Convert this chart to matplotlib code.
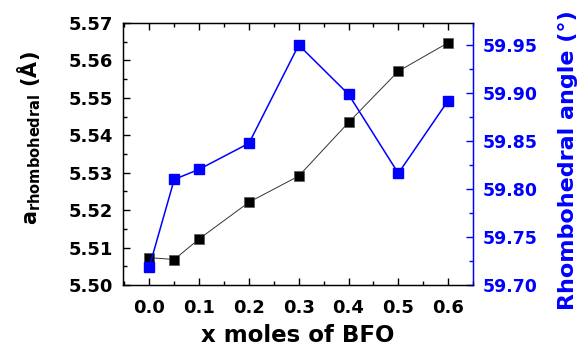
import matplotlib

matplotlib.use("Agg")
import matplotlib.pyplot as plt  # noqa: E402
from matplotlib.ticker import MultipleLocator  # noqa: E402

plt.rcParams["font.family"] = ["DejaVu Sans"]
plt.rcParams["font.weight"] = "bold"
plt.rcParams["mathtext.fontset"] = "dejavusans"

x_bfo = [0.0, 0.05, 0.1, 0.2, 0.3, 0.4, 0.5, 0.6]
a_rhomb = [5.5073, 5.5068, 5.5123, 5.5221, 5.5291, 5.5434, 5.5571, 5.5647]
angulo = [59.719, 59.810, 59.8205, 59.8476, 59.950, 59.8986, 59.8163, 59.892]

AZUL = "#0000FF"

fig, ax = plt.subplots(figsize=(5.87, 3.58), dpi=100)
fig.subplots_adjust(left=0.2095, right=0.8058, top=0.936, bottom=0.204)

ax.plot(x_bfo, a_rhomb, color="#333333", linewidth=0.7, marker="s",
        markersize=7, markerfacecolor="black", markeredgecolor="#555555",
        markeredgewidth=0.5, zorder=3)
ax.set_xlim(-0.053, 0.65)
ax.set_ylim(5.50, 5.57)
ax.xaxis.set_major_locator(MultipleLocator(0.1))
ax.xaxis.set_minor_locator(MultipleLocator(0.05))
ax.yaxis.set_major_locator(MultipleLocator(0.01))
ax.yaxis.set_minor_locator(MultipleLocator(0.005))
ax.tick_params(which="both", direction="in", top=True, labelsize=13,
               width=1.0)
ax.tick_params(which="major", length=5)
ax.tick_params(which="minor", length=3)
ax.tick_params(axis="x", pad=10)
ax.tick_params(axis="y", pad=7)
ax.set_xticklabels([f"{v:.1f}" for v in ax.get_xticks()])
ax.set_yticklabels([f"{v:.2f}" for v in ax.get_yticks()])
ax.set_xlabel("x moles of BFO", fontsize=16.5, fontweight="bold", labelpad=5)
ax.set_ylabel(r"a$_{\mathbf{rhombohedral}}$ (Å)", fontsize=15,
              fontweight="bold")
ax.yaxis.set_label_coords(-0.228, 0.561)
for lado in ["left", "bottom", "top"]:
    ax.spines[lado].set_linewidth(1.0)

ax2 = ax.twinx()
ax2.plot(x_bfo, angulo, color=AZUL, linewidth=1.1, marker="s",
         markersize=7, markerfacecolor=AZUL, markeredgecolor=AZUL, zorder=3)
ax2.set_ylim(59.70, 59.973)
ax2.yaxis.set_major_locator(MultipleLocator(0.05))
ax2.yaxis.set_minor_locator(MultipleLocator(0.025))
ax2.tick_params(which="both", direction="in", colors=AZUL, labelsize=12.5,
                width=1.0, pad=7)
ax2.tick_params(which="major", length=5)
ax2.tick_params(which="minor", length=3)
ax2.set_yticklabels([f"{v:.2f}" for v in ax2.get_yticks()])
ax2.spines["right"].set_color(AZUL)
ax2.spines["right"].set_linewidth(1.0)
ax2.set_ylabel("Rhombohedral angle (°)", fontsize=16, fontweight="bold",
               color=AZUL)
ax2.yaxis.set_label_coords(1.243, 0.478)

fig.savefig("out.png", dpi=100)
